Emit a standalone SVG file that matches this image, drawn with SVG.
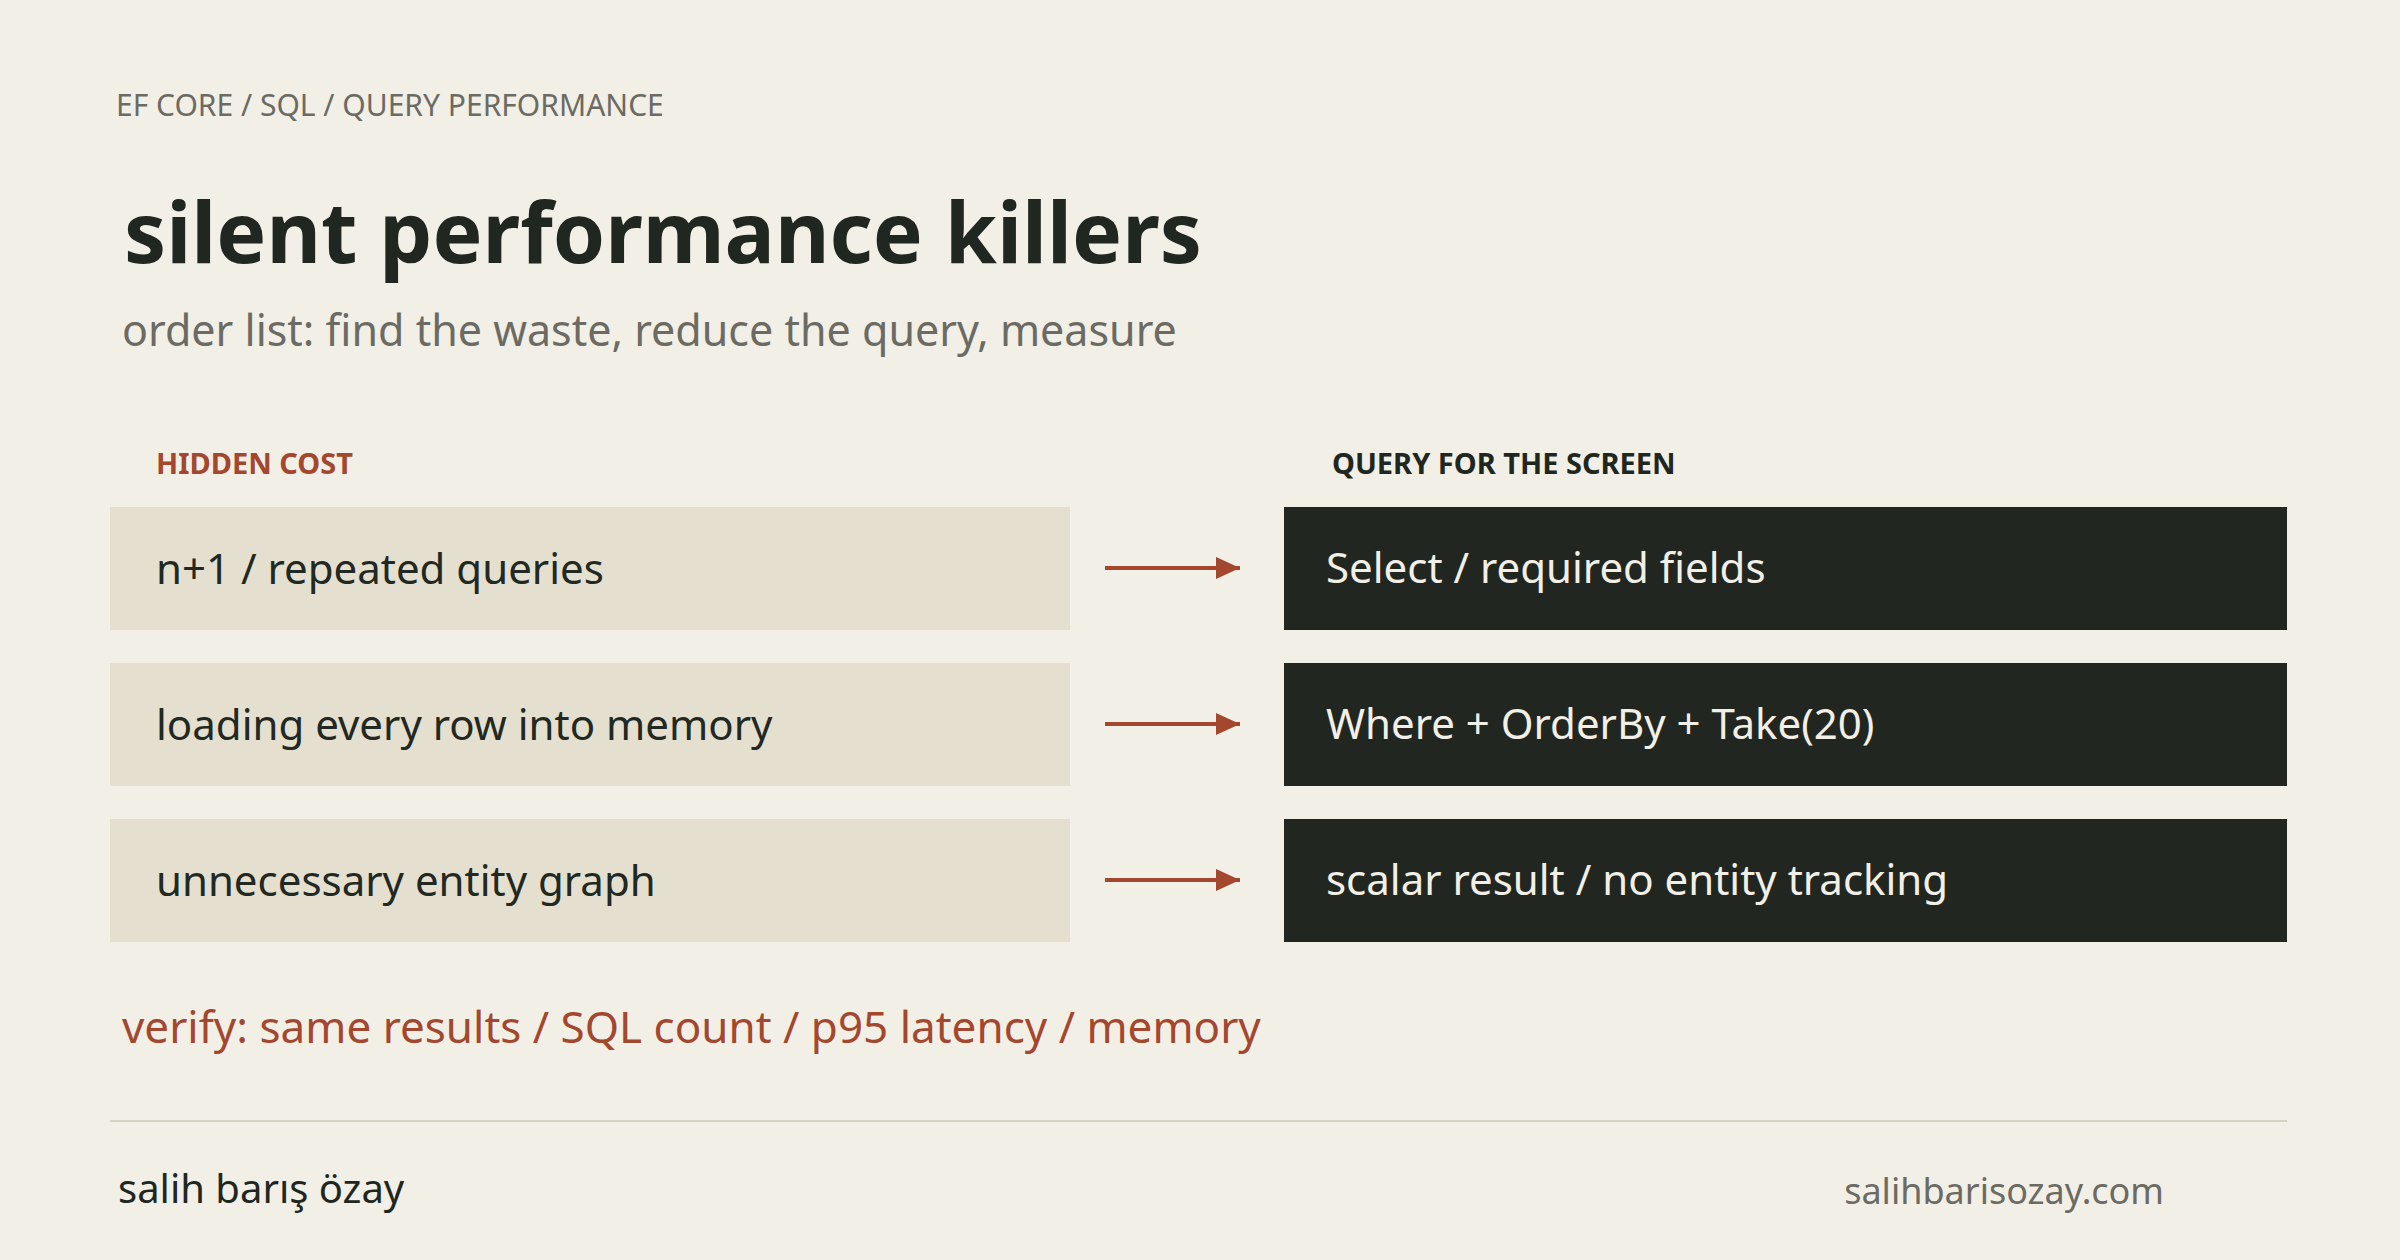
<svg xmlns="http://www.w3.org/2000/svg" width="2400" height="1260" viewBox="0 0 2400 1260">
<style>
text{font-family:"Noto Sans","Open Sans",sans-serif}
.lbox{fill:#e4dfcf}
.rbox{fill:#212720}
.lt{font-size:42px;fill:#222822}
.rt{font-size:42px;fill:#f2efe7}
.arr{stroke:#a3472e;stroke-width:4;fill:none}
</style>
<defs><marker id="ah" markerWidth="8" markerHeight="8" refX="7" refY="4" orient="auto" markerUnits="userSpaceOnUse" viewBox="0 0 8 8"><path d="M0,0 L8,4 L0,8 Z" fill="#a3472e"/></marker>
<marker id="a" markerWidth="24" markerHeight="22" refX="24" refY="11" orient="auto" markerUnits="userSpaceOnUse"><path d="M0,0 L24,11 L0,22 Z" fill="#a3472e"/></marker></defs>
<rect width="2400" height="1260" fill="#f2efe7"/>
<text x="116" y="116" font-size="30" fill="#6b6b63">EF CORE / SQL / QUERY PERFORMANCE</text>
<text x="124" y="263" font-size="84" font-weight="bold" fill="#202720">silent performance killers</text>
<text x="122" y="346" font-size="43" fill="#6b6b63">order list: find the waste, reduce the query, measure</text>
<text x="156" y="474" font-size="29" font-weight="bold" fill="#a3472e">HIDDEN COST</text>
<text x="1332" y="474" font-size="29" font-weight="bold" fill="#202720">QUERY FOR THE SCREEN</text>
<g id="l1"><rect class="lbox" x="110" y="507" width="960" height="123"/><text class="lt" x="156" y="584">n+1 / repeated queries</text></g>
<g id="l2"><rect class="lbox" x="110" y="663" width="960" height="123"/><text class="lt" x="156" y="740">loading every row into memory</text></g>
<g id="l3"><rect class="lbox" x="110" y="819" width="960" height="123"/><text class="lt" x="156" y="896">unnecessary entity graph</text></g>
<g id="r1"><rect class="rbox" x="1284" y="507" width="1003" height="123"/><text class="rt" x="1326" y="583">Select / required fields</text></g>
<g id="r2"><rect class="rbox" x="1284" y="663" width="1003" height="123"/><text class="rt" x="1326" y="739">Where + OrderBy + Take(20)</text></g>
<g id="r3"><rect class="rbox" x="1284" y="819" width="1003" height="123"/><text class="rt" x="1326" y="895">scalar result / no entity tracking</text></g>
<g id="connectors">
<line class="arr" x1="1105" y1="568" x2="1240" y2="568" marker-end="url(#a)"/>
<line class="arr" x1="1105" y1="724" x2="1240" y2="724" marker-end="url(#a)"/>
<line class="arr" x1="1105" y1="880" x2="1240" y2="880" marker-end="url(#a)"/>
</g>
<text x="122" y="1043" font-size="44" fill="#a3472e">verify: same results / SQL count / p95 latency / memory</text>
<line x1="110" y1="1121" x2="2287" y2="1121" stroke="#d6d2c2" stroke-width="2"/>
<text x="118" y="1203" font-size="40" fill="#202720">salih barış özay</text>
<text x="2164" y="1204" font-size="36" fill="#6b6b63" text-anchor="end">salihbarisozay.com</text>
</svg>
